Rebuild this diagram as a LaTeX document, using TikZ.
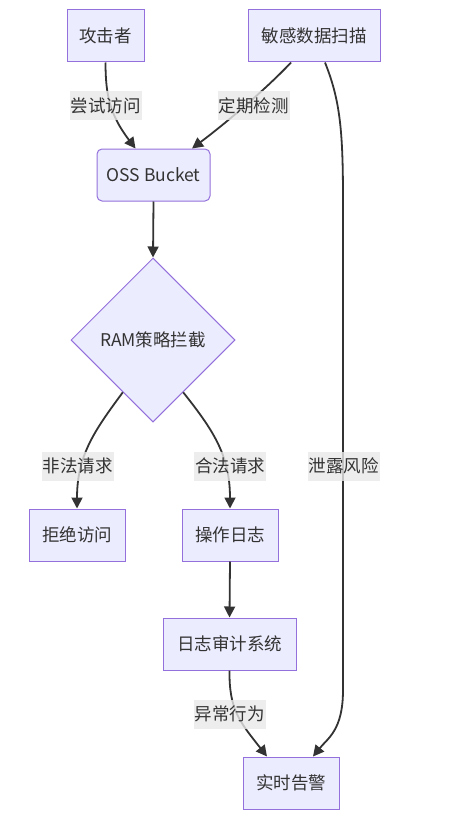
\documentclass[tikz,border=0pt]{standalone}
\usepackage{fontspec}
\setmainfont{Noto Sans CJK SC}
\usetikzlibrary{shapes.geometric,arrows.meta,calc}
\definecolor{nodefill}{HTML}{ECECFF}
\definecolor{nodeline}{HTML}{9370DB}
\definecolor{edgecol}{HTML}{333333}
\definecolor{txt}{HTML}{333333}
\definecolor{labelbg}{HTML}{E8E8E8}
\begin{document}
\begin{tikzpicture}[x=1pt,y=-1pt,
  box/.style={draw=nodeline,fill=nodefill,line width=1pt,minimum height=52pt,inner sep=0pt,text=txt,font=\fontsize{17.5}{20}\selectfont},
  decision/.style={diamond,draw=nodeline,fill=nodefill,line width=1pt,minimum width=164pt,minimum height=164pt,inner sep=0pt,aspect=1,text=txt,font=\fontsize{17.5}{20}\selectfont},
  edge/.style={draw=edgecol,line width=1.8pt,-{Triangle[length=11pt,width=11pt]}},
  elabel/.style={fill=labelbg,fill opacity=0.8,text opacity=1,text=txt,inner xsep=1pt,inner ysep=0pt,minimum height=29pt,font=\fontsize{17.5}{20}\selectfont}]
\useasboundingbox (0,0) rectangle (465,824);
% nodes
\node[box,minimum width=77pt] (att) at (105.5,36) {攻击者};
\node[box,minimum width=132pt] (scan) at (314,36) {敏感数据扫描};
\node[box,minimum width=113pt,rounded corners=5pt] (oss) at (153.5,175) {OSS Bucket};
\node[decision] (ram) at (153,340) {RAM策略拦截};
\node[box,minimum width=96pt] (deny) at (77,535) {拒绝访问};
\node[box,minimum width=96pt] (oplog) at (230,535) {操作日志};
\node[box,minimum width=133pt] (audit) at (229.5,644) {日志审计系统};
\node[box,minimum width=96pt] (alert) at (291,783) {实时告警};
% edges
\draw[edge] (att.south) .. controls (105.5,95) and (110,115) .. ($(oss.north)+(-18,0)$);
\draw[edge] ($(scan.south)+(-23,0)$) .. controls (270,85) and (230,120) .. ($(oss.north)+(38.5,0)$);
\draw[edge] ($(scan.south)+(11,0)$) .. controls (340,100) and (343,130) .. (343,200) -- (343,690) .. controls (343,730) and (328,738) .. ($(alert.north)+(22,0)$);
\draw[edge] (oss.south) -- (ram.north);
\draw[edge] (ram.240) .. controls (95,430) and (77,455) .. (deny.north);
\draw[edge] (ram.300) .. controls (213,430) and (230,455) .. (oplog.north);
\draw[edge] (oplog.south) -- (audit.north);
\draw[edge] (audit.south) .. controls (229,710) and (240,722) .. ($(alert.north)+(-24,0)$);
% edge labels
\node[elabel] (l1) at (105.5,106) {尝试访问};
\node[elabel] (l2) at (253.5,106) {定期检测};
\node[elabel] (l3) at (77.5,466) {非法请求};
\node[elabel] (l4) at (230,466) {合法请求};
\node[elabel] (l5) at (343.5,466) {泄露风险};
\node[elabel] (l6) at (229.5,714) {异常行为};
\end{tikzpicture}
\end{document}
